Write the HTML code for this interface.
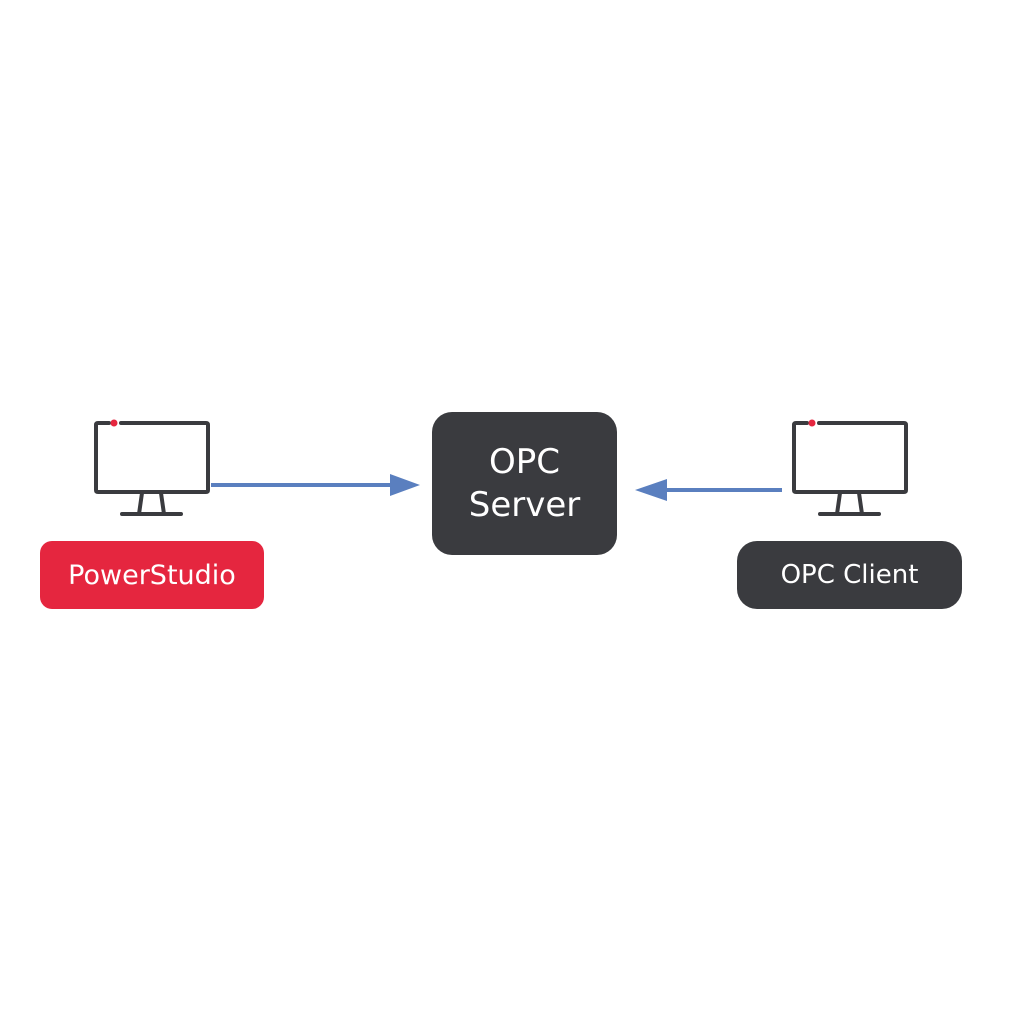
<!DOCTYPE html>
<html><head><style>
body{margin:0;width:1024px;height:1024px;background:#fff;position:relative;font-family:"DejaVu Sans","Liberation Sans",sans-serif;overflow:hidden}
.box{position:absolute;color:#fff;display:flex;align-items:center;justify-content:center;text-align:center}
</style></head><body>
<svg width="1024" height="1024" style="position:absolute;left:0;top:0">
<g fill="none" stroke="#3a3b3f" stroke-width="4" stroke-linecap="round" stroke-linejoin="round">
<path d="M109 423 H98 Q96 423 96 425 V490 Q96 492 98 492 H206 Q208 492 208 490 V425 Q208 423 206 423 H121"/>
<path d="M142 493 L139 514 M161 493 L164 514 M122 514 H181"/>
<path d="M807 423 H796 Q794 423 794 425 V490 Q794 492 796 492 H904 Q906 492 906 490 V425 Q906 423 904 423 H819"/>
<path d="M840 493 L837 514 M859 493 L862 514 M820 514 H879"/>
</g>
<circle cx="114" cy="423" r="3.5" fill="#e5263f"/>
<circle cx="812" cy="423" r="3.5" fill="#e5263f"/>
<line x1="211" y1="485" x2="394" y2="485" stroke="#5a7fbf" stroke-width="4"/>
<polygon points="390,474 420,485 390,496" fill="#5a7fbf"/>
<line x1="665" y1="490" x2="782" y2="490" stroke="#5a7fbf" stroke-width="4"/>
<polygon points="667,479 635,490 667,501" fill="#5a7fbf"/>
</svg>
<div class="box" style="left:40px;top:541px;width:224px;height:68px;background:#e5263f;border-radius:12px;font-size:27px">PowerStudio</div>
<div class="box" style="left:432px;top:412px;width:185px;height:143px;background:#3a3b3f;border-radius:20px;font-size:34px;line-height:43px">OPC<br>Server</div>
<div class="box" style="left:737px;top:541px;width:225px;height:68px;background:#3a3b3f;border-radius:20px;font-size:26px">OPC Client</div>
</body></html>
